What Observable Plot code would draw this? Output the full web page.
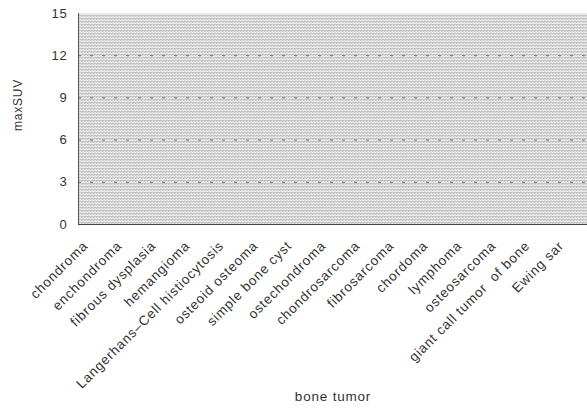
<!DOCTYPE html>
<html>
<head>
<meta charset="utf-8">
<script src="https://cdn.jsdelivr.net/npm/d3@7"></script>
<script src="https://cdn.jsdelivr.net/npm/@observablehq/plot@0.6"></script>
<style>
  html, body { margin: 0; padding: 0; background: #fff; overflow: hidden; }
  #chart svg { display: block; font-family: "Liberation Sans", Arial, sans-serif; }
  #chart svg text { letter-spacing: 0.8px; }
</style>
</head>
<body>
<div id="chart"></div>
<script>
// Categories (x axis)
const categories = [
  "chondroma", "enchondroma", "fibrous dysplasia", "hemangioma",
  "Langerhans–Cell histiocytosis", "osteoid osteoma", "simple bone cyst",
  "ostechondroma", "chondrosarcoma", "fibrosarcoma", "chordoma",
  "lymphoma", "osteosarcoma", "giant call tumor  of bone", "Ewing sar"
];
// y axis tick values
const yTicks = [0, 3, 6, 9, 12, 15];
const gridTicks = [3, 6, 9, 12];
const xLabel = "bone tumor";
const yLabel = "maxSUV";

const ink = "#333";

const chart = Plot.plot({
  width: 587,
  height: 410,
  marginLeft: 78,
  marginRight: 0,
  marginTop: 13,
  marginBottom: 186,
  style: { fontSize: "12px", color: ink, background: "#fff" },
  x: { type: "point", domain: categories, range: [79, 563], padding: 0 },
  y: { domain: [0, 15] },
  marks: [
    Plot.frame({ fill: "url(#halftone)", stroke: null }),
    Plot.gridY(gridTicks, { stroke: "#222", strokeOpacity: 0.6, strokeDasharray: "3,9" }),
    Plot.frame({ anchor: "left", stroke: "#555" }),
    Plot.frame({ anchor: "bottom", stroke: "#444" }),
    Plot.axisY(yTicks, { tickSize: 0, tickPadding: 11, label: null, fontSize: 13, fill: ink }),
    Plot.axisX({ tickRotate: -45, tickSize: 0, tickPadding: 19, dx: 2, label: null, fontSize: 13.5, fill: ink }),
    Plot.text([xLabel], { frameAnchor: "bottom", dy: 176, fontSize: 13.5, fill: ink }),
    Plot.text([yLabel], { frameAnchor: "left", dx: -60, dy: 12, rotate: -90, fontSize: 12, fill: ink })
  ]
});

d3.select(chart).insert("defs", ":first-child").html(
  `<pattern id="halftone" width="3" height="3" patternUnits="userSpaceOnUse">
     <rect width="3" height="3" fill="#fff"/>
     <rect x="0" y="0" width="1" height="1" fill="#777"/>
     <rect x="2" y="0" width="1" height="1" fill="#999"/>
     <rect x="1" y="2" width="1" height="1" fill="#888"/>
   </pattern>`
);

document.getElementById("chart").appendChild(chart);
</script>
</body>
</html>
